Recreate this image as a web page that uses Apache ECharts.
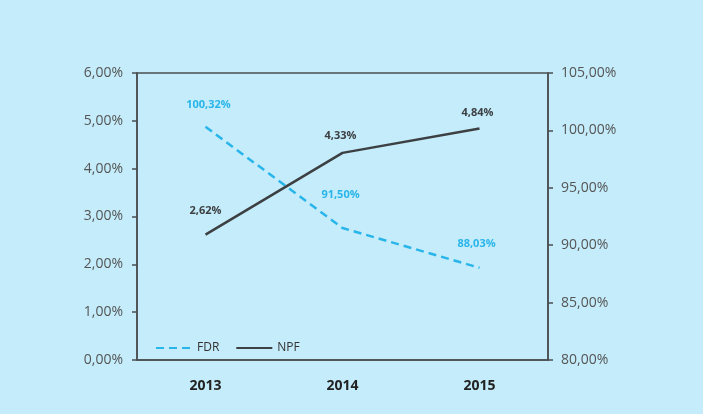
<!DOCTYPE html>
<html>
<head>
<meta charset="utf-8">
<script src="https://cdn.jsdelivr.net/npm/echarts@6/dist/echarts.min.js"></script>
<style>
  html, body { margin: 0; padding: 0; background: #c4ecfa; }
  #chart { width: 703px; height: 414px; }
</style>
</head>
<body>
<div id="chart"></div>
<script>
var years = ['2013', '2014', '2015']
var fdrValues = [100.32, 91.50, 88.03]
var npfValues = [2.62, 4.33, 4.84]

// label nudges (x, y) so the numbers sit like the original
var fdrLabelOffset = [[3, -16], [-2, -28], [-3, -18]]
var npfLabelOffset = [[0, -18], [-2, -12], [-2, -10]]

function pct (v) {
  return v.toFixed(2).replace('.', ',') + '%'
}

function withLabels (values, offsets) {
  return values.map(function (v, i) {
    return { value: v, label: { offset: offsets[i] } }
  })
}

var axisColor = '#4a4d50'
var font = 'Open Sans'

var myChart = echarts.init(document.getElementById('chart'))
var option = {
  backgroundColor: '#c4ecfa',
  animation: false,
  grid: {
    left: 137,
    right: 155,
    top: 73,
    bottom: 54,
    show: true,
    borderColor: axisColor,
    borderWidth: 1.5,
    backgroundColor: 'transparent'
  },
  legend: {
    left: 150,
    top: 337,
    itemWidth: 36,
    itemHeight: 12,
    itemGap: 16,
    itemStyle: { opacity: 0 },
    textStyle: { color: '#333', fontFamily: font, fontSize: 12 },
    data: ['FDR', 'NPF']
  },
  xAxis: {
    type: 'category',
    data: years,
    axisLine: { lineStyle: { color: axisColor, width: 1.5 } },
    axisTick: { length: 10, lineStyle: { color: axisColor, width: 1.5 } },
    axisLabel: { color: '#222', fontWeight: 'bold', fontFamily: font, fontSize: 14, margin: 19 }
  },
  yAxis: [{
    type: 'value',
    min: 0,
    max: 6,
    interval: 1,
    splitLine: { show: false },
    axisLine: { show: true, lineStyle: { color: axisColor, width: 1.5 } },
    axisTick: { show: true, length: 5, lineStyle: { color: axisColor, width: 1.5 } },
    axisLabel: { color: '#555', fontFamily: font, fontSize: 14, margin: 14, formatter: pct }
  }, {
    type: 'value',
    min: 80,
    max: 105,
    interval: 5,
    position: 'right',
    splitLine: { show: false },
    axisLine: { show: true, lineStyle: { color: axisColor, width: 1.5 } },
    axisTick: { show: true, length: 5, lineStyle: { color: axisColor, width: 1.5 } },
    axisLabel: { color: '#555', fontFamily: font, fontSize: 14, margin: 13, formatter: pct }
  }],
  series: [{
    name: 'FDR',
    type: 'line',
    yAxisIndex: 1,
    symbol: 'circle',
    symbolSize: 0,
    itemStyle: { color: '#29b5ea' },
    lineStyle: { color: '#29b5ea', width: 2.5, type: [8, 5] },
    label: {
      show: true,
      position: 'top',
      distance: 0,
      color: '#29b5ea',
      fontWeight: 'bold',
      fontFamily: font,
      fontSize: 11,
      formatter: function (p) { return pct(p.value) }
    },
    data: withLabels(fdrValues, fdrLabelOffset)
  }, {
    name: 'NPF',
    type: 'line',
    yAxisIndex: 0,
    symbol: 'circle',
    symbolSize: 0,
    itemStyle: { color: '#3d4043' },
    lineStyle: { color: '#3d4043', width: 2.5 },
    label: {
      show: true,
      position: 'top',
      distance: 0,
      color: '#3d4043',
      fontWeight: 'bold',
      fontFamily: font,
      fontSize: 11,
      formatter: function (p) { return pct(p.value) }
    },
    data: withLabels(npfValues, npfLabelOffset)
  }]
}
myChart.setOption(option)
</script>
</body>
</html>
